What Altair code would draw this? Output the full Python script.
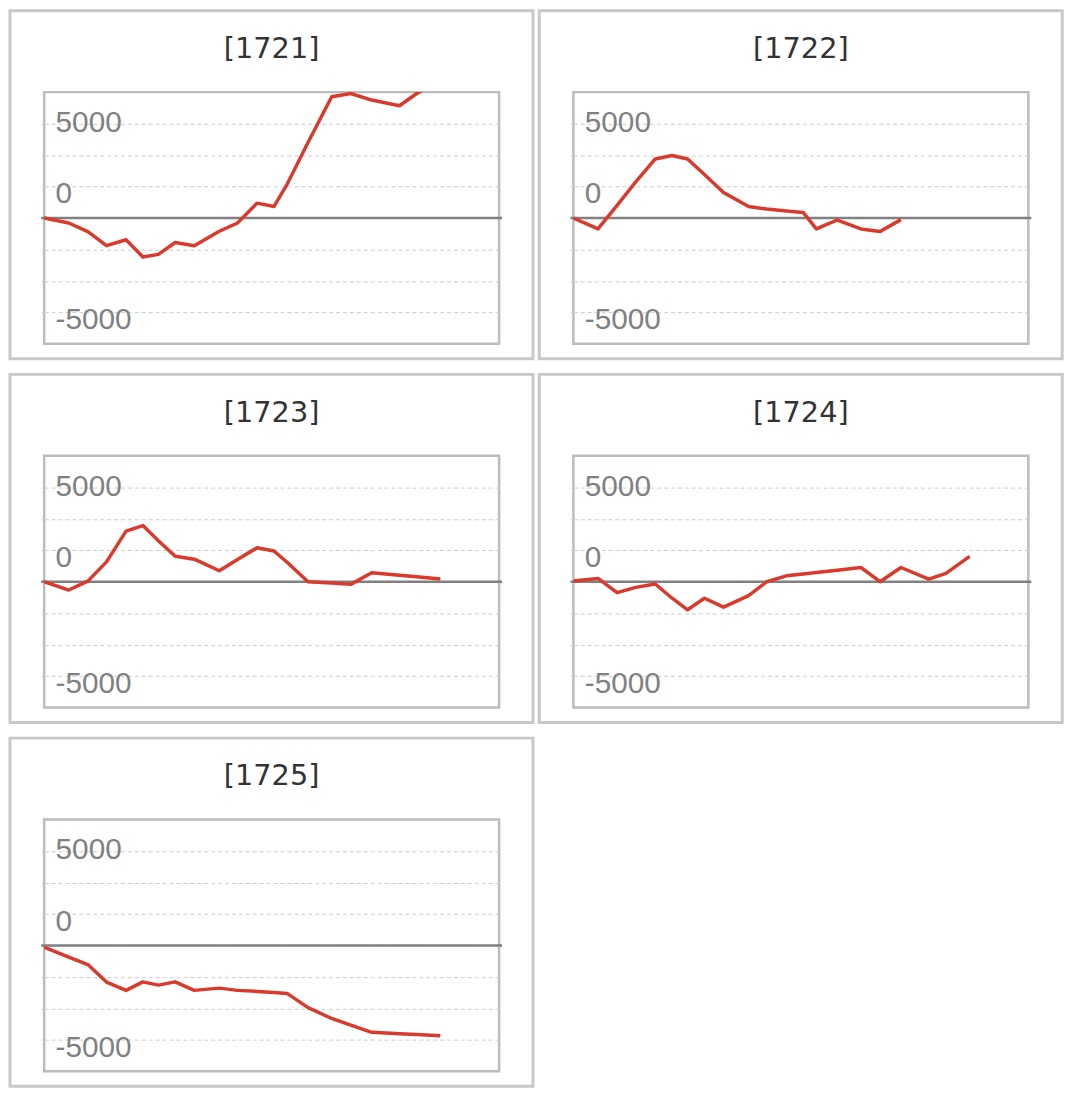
import altair as alt
import pandas as pd

# ---- data ----
PANELS = ["[1721]", "[1722]", "[1723]", "[1724]", "[1725]"]

# common period positions (x), shared by all panels
T = [0, 5.4, 9.6, 13.7, 18.0, 21.7, 25.1, 28.8, 33.0, 38.5, 42.5,
     46.8, 50.5, 53.4, 58.0, 63.2, 67.4, 72.0, 78.1, 81.9, 87.1]

S1721 = [0, -400, -1080, -2200, -1730, -3100, -2890, -1950, -2200, -1050, -400,
         1180, 910, 2680, 6000, 9630, 9890, 9370, 8920, 9890, 11000]
S1722 = [0, -870, 1000, 2870, 4690, 4960, 4690, 3460, 2020, 910, 710,
         560, 440, -870, -160, -870, -1080, -130]
S1723 = [0, -660, 50, 1580, 4020, 4460, 3250, 2020, 1790, 870, 1760,
         2700, 2440, 1550, 0, -100, -210, 710, 510, 390, 210]
S1724 = [50, 260, -870, -450, -180, -1310, -2230, -1310, -2020, -1100, 0,
         470, 620, 740, 910, 1130, 0, 1130, 210, 660, 2020]
S1725 = [-130, -920, -1520, -2910, -3570, -2890, -3150, -2890, -3570, -3390, -3570,
         -3650, -3730, -3810, -4940, -5800, -6330, -6900, -7010, -7070, -7170]

SERIES = [S1721, S1722, S1723, S1724, S1725]

X_DOMAIN = [0, 100]
Y_DOMAIN = [-10000, 10000]
GRID_VALUES = [-7500, -5000, -2500, 0, 2500, 5000, 7500]
LABEL_AT = [7500, 2500, -7500]
LABEL_TEXT = ["5000", "0", "-5000"]

# ---- styling ----
W, H = 459, 254
RED = "#d93a2b"
label_expr = " : ".join(
    f"datum.value == {v} ? '{t}'" for v, t in zip(LABEL_AT, LABEL_TEXT)
) + " : ''"


def panel(name, values):
    df = pd.DataFrame({"t": T[:len(values)], "v": values})
    y_axis = alt.Axis(
        values=GRID_VALUES,
        labelExpr=label_expr,
        grid=True,
        gridColor="#cccccc",
        gridDash=[4, 3],
        gridWidth=1,
        domain=False,
        ticks=True,
        tickSize=3,
        tickColor="#cccccc",
        labelAlign="left",
        labelPadding=-14,
        labelBaseline="alphabetic",
        labelOffset={"condition": {"test": f"datum.value == {LABEL_AT[0]}", "value": 8},
                     "value": 16.5},
        labelFont="Liberation Sans",
        labelFontSize=30,
        labelColor="#808080",
        labelOverlap=False,
        labelFlush=False,
        title=None,
    )
    xs = alt.Scale(domain=X_DOMAIN, nice=False, zero=False)
    ys = alt.Scale(domain=Y_DOMAIN, nice=False)

    one = pd.DataFrame({"name": [name], "v": [0]})

    frame = alt.Chart(one).mark_rect(
        fill="transparent", stroke="#c8c8c8", strokeWidth=3
    ).encode(
        x=alt.value(-34.5), x2=alt.value(W + 34.2),
        y=alt.value(-82.2), y2=alt.value(H + 15),
    )
    zero = alt.Chart(one).mark_rule(color="#808080", strokeWidth=2.5).encode(
        y=alt.Y("v:Q", scale=ys, axis=y_axis),
        x=alt.value(-3), x2=alt.value(W + 3),
    )
    line = alt.Chart(df).mark_line(
        color=RED, strokeWidth=3.5, clip=True, strokeJoin="round"
    ).encode(
        x=alt.X("t:Q", scale=xs, axis=None),
        y=alt.Y("v:Q", scale=ys, axis=y_axis),
    )
    title = alt.Chart(one).mark_text(
        font="DejaVu Sans", fontSize=29, color="#333333",
        baseline="alphabetic", align="center",
    ).encode(
        text="name:N", x=alt.value(W / 2), y=alt.value(-34.4),
    )
    return alt.layer(frame, zero, line, title).properties(width=W, height=H)


charts = [panel(n, s) for n, s in zip(PANELS, SERIES)]

chart = alt.concat(*charts, columns=2, spacing={"row": 10, "column": 0}).configure_view(
    stroke="#bcbcbc", strokeWidth=2.5
).properties(
    padding={"left": -1.5, "top": -5, "right": 0, "bottom": 0},
    background="white",
)

chart.save("out.html", embed_options={"renderer": "svg", "actions": False})
